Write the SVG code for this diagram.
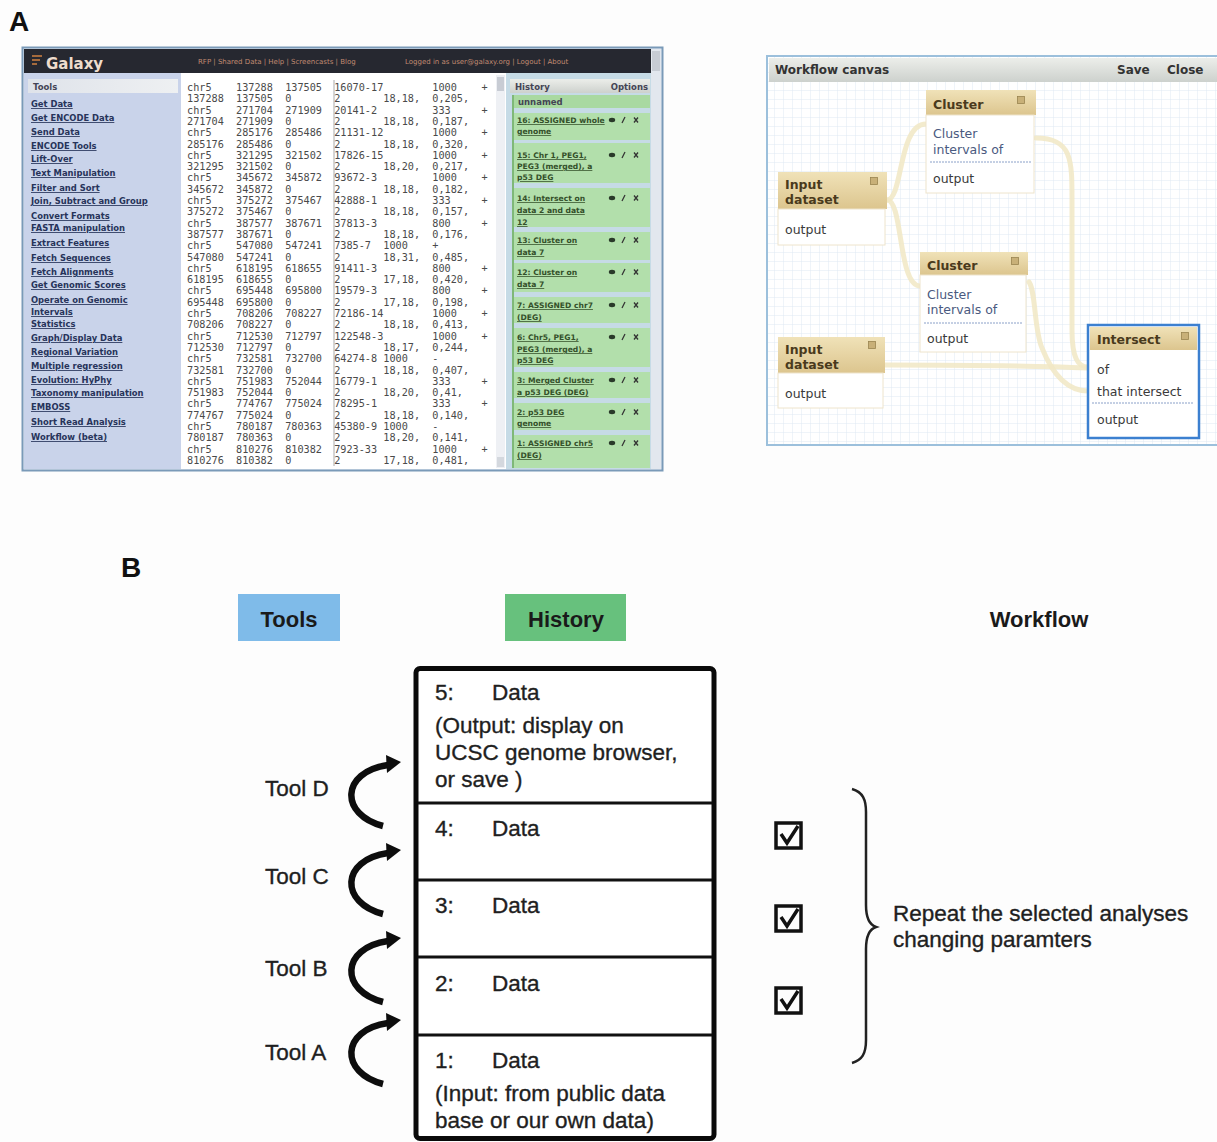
<svg xmlns="http://www.w3.org/2000/svg" width="1217" height="1142" viewBox="0 0 1217 1142">
<defs>
<style>
.lbl{font-family:"Liberation Sans",Arial,sans-serif;font-weight:bold;font-size:28px;fill:#111}
.b{font-family:"Liberation Sans",Arial,sans-serif;font-size:22.5px;fill:#1f1f1f;stroke:#1f1f1f;stroke-width:0.35}
.bh{font-family:"Liberation Sans",Arial,sans-serif;font-size:22px;font-weight:bold;fill:#1a1a1a;text-anchor:middle}
.tool{font-family:"DejaVu Sans",sans-serif;font-size:8.4px;font-weight:bold;fill:#27345a;text-decoration:underline}
.tbl{font-family:"DejaVu Sans Mono","Liberation Mono",monospace;font-size:10.2px;fill:#4a4a4a;white-space:pre}
.hist{font-family:"DejaVu Sans",sans-serif;font-size:7.6px;font-weight:bold;fill:#34502a;text-decoration:underline}
.hdr{font-family:"DejaVu Sans",sans-serif;font-size:8.5px;font-weight:bold;fill:#445}
.lnk{font-family:"DejaVu Sans",sans-serif;font-size:7px;fill:#c08a70}
.wfh{font-family:"DejaVu Sans",sans-serif;font-size:12.5px;font-weight:bold;fill:#4a3a1c}
.wft{font-family:"DejaVu Sans",sans-serif;font-size:12px;font-weight:bold;fill:#333}
.wfb{font-family:"DejaVu Sans",sans-serif;font-size:12.5px;fill:#4a5a80}
.wfo{font-family:"DejaVu Sans",sans-serif;font-size:12.5px;fill:#3a3a3a}
.conn{fill:none;stroke:#f1e8c4;stroke-width:5;stroke-linecap:round;opacity:.85}
.arc{fill:none;stroke:#0d0d0d;stroke-width:6.5}
.row{stroke:#111;stroke-width:3}
.hitem{fill:#b2dfab}
.nh{fill:url(#tan)}
.nb{fill:#fff;stroke:#eee4cc;stroke-width:1}
.div{stroke:#8aa0c8;stroke-width:1;stroke-dasharray:2 1}
.chk{fill:none;stroke:#111;stroke-width:3.5}
</style>
<linearGradient id="tan" x1="0" y1="0" x2="0" y2="1"><stop offset="0" stop-color="#f0e2b8"/><stop offset="1" stop-color="#dcc58e"/></linearGradient>
<linearGradient id="bar" x1="0" y1="0" x2="0" y2="1"><stop offset="0" stop-color="#eceeea"/><stop offset="1" stop-color="#cdd1cd"/></linearGradient>
<linearGradient id="tbar" x1="0" y1="0" x2="1" y2="0"><stop offset="0" stop-color="#dfe3ea"/><stop offset="1" stop-color="#eef0f2"/></linearGradient>
<pattern id="grid" width="9" height="9" patternUnits="userSpaceOnUse"><rect width="9" height="9" fill="#fff"/><path d="M9 0H0V9" fill="none" stroke="#dfe9f3" stroke-width="1"/></pattern>
<clipPath id="tclip"><rect x="183" y="76" width="312" height="392"/></clipPath>
<g id="hi"><ellipse cx="0" cy="0" rx="3.2" ry="2.2" fill="#2a3a2a"/><path d="M10,3 L13,-3" stroke="#333" stroke-width="1.3"/><path d="M22,-2.5 L26,2.5 M26,-2.5 L22,2.5" stroke="#333" stroke-width="1.3"/></g>
<g id="cx"><rect x="-3.5" y="-3.5" width="7" height="7" fill="#c8b078" stroke="#9a8450" stroke-width=".8"/></g>
</defs>

<rect width="1217" height="1142" fill="#fdfdfd"/>

<text class="lbl" x="9" y="31">A</text>
<text class="lbl" x="121" y="577">B</text>

<!-- Galaxy screenshot -->
<g id="galaxy-screenshot">
<rect x="22.5" y="47.5" width="640" height="423" fill="#e8eef6" stroke="#7a9ab8" stroke-width="2"/>
<rect x="24" y="49" width="627" height="24" fill="#262830"/>
<path d="M32,56 h10 M32,60 h8 M32,64 h5" stroke="#d08040" stroke-width="1.5"/>
<text x="46" y="69" font-family="DejaVu Sans,sans-serif" font-size="15" font-weight="bold" fill="#eedccc">Galaxy</text>
<text class="lnk" x="198" y="64">RFP | Shared Data | Help | Screencasts | Blog</text>
<text class="lnk" x="405" y="64">Logged in as user@galaxy.org | Logout | About</text>
<rect x="651" y="49" width="10" height="420" fill="#e2e7ee"/>
<rect x="652" y="51" width="8" height="20" fill="#c7ccd4"/>
<rect x="24" y="73" width="157" height="396" fill="#c9d3ea"/>
<rect x="28" y="79" width="150" height="14" fill="url(#tbar)"/>
<text class="hdr" x="33" y="90">Tools</text>
<text class="tool" x="31" y="107">Get Data</text>
<text class="tool" x="31" y="121">Get ENCODE Data</text>
<text class="tool" x="31" y="135">Send Data</text>
<text class="tool" x="31" y="149">ENCODE Tools</text>
<text class="tool" x="31" y="162">Lift-Over</text>
<text class="tool" x="31" y="176">Text Manipulation</text>
<text class="tool" x="31" y="191">Filter and Sort</text>
<text class="tool" x="31" y="204">Join, Subtract and Group</text>
<text class="tool" x="31" y="219">Convert Formats</text>
<text class="tool" x="31" y="231">FASTA manipulation</text>
<text class="tool" x="31" y="246">Extract Features</text>
<text class="tool" x="31" y="261">Fetch Sequences</text>
<text class="tool" x="31" y="275">Fetch Alignments</text>
<text class="tool" x="31" y="288">Get Genomic Scores</text>
<text class="tool" x="31" y="303">Operate on Genomic</text>
<text class="tool" x="31" y="315">Intervals</text>
<text class="tool" x="31" y="327">Statistics</text>
<text class="tool" x="31" y="341">Graph/Display Data</text>
<text class="tool" x="31" y="355">Regional Variation</text>
<text class="tool" x="31" y="369">Multiple regression</text>
<text class="tool" x="31" y="383">Evolution: HyPhy</text>
<text class="tool" x="31" y="396">Taxonomy manipulation</text>
<text class="tool" x="31" y="410">EMBOSS</text>
<text class="tool" x="31" y="425">Short Read Analysis</text>
<text class="tool" x="31" y="440">Workflow (beta)</text>

<rect x="181" y="73" width="325" height="396" fill="#fff"/>
<line x1="334" y1="80" x2="334" y2="466" stroke="#aaa" stroke-width="1"/>
<rect x="496" y="75" width="9" height="393" fill="#eef0f4"/>
<rect x="497" y="77" width="7" height="14" fill="#c8ccd4"/>
<rect x="497" y="457" width="7" height="10" fill="#d4d8de"/>
<g clip-path="url(#tclip)">
<text class="tbl" xml:space="preserve" x="187" y="91">chr5    137288  137505  16070-17        1000    +</text>
<text class="tbl" xml:space="preserve" x="187" y="102.3">137288  137505  0       2       18,18,  0,205,</text>
<text class="tbl" xml:space="preserve" x="187" y="113.6">chr5    271704  271909  20141-2         333     +</text>
<text class="tbl" xml:space="preserve" x="187" y="124.9">271704  271909  0       2       18,18,  0,187,</text>
<text class="tbl" xml:space="preserve" x="187" y="136.2">chr5    285176  285486  21131-12        1000    +</text>
<text class="tbl" xml:space="preserve" x="187" y="147.5">285176  285486  0       2       18,18,  0,320,</text>
<text class="tbl" xml:space="preserve" x="187" y="158.8">chr5    321295  321502  17826-15        1000    +</text>
<text class="tbl" xml:space="preserve" x="187" y="170.1">321295  321502  0       2       18,20,  0,217,</text>
<text class="tbl" xml:space="preserve" x="187" y="181.4">chr5    345672  345872  93672-3         1000    +</text>
<text class="tbl" xml:space="preserve" x="187" y="192.7">345672  345872  0       2       18,18,  0,182,</text>
<text class="tbl" xml:space="preserve" x="187" y="204">chr5    375272  375467  42888-1         333     +</text>
<text class="tbl" xml:space="preserve" x="187" y="215.3">375272  375467  0       2       18,18,  0,157,</text>
<text class="tbl" xml:space="preserve" x="187" y="226.6">chr5    387577  387671  37813-3         800     +</text>
<text class="tbl" xml:space="preserve" x="187" y="237.9">387577  387671  0       2       18,18,  0,176,</text>
<text class="tbl" xml:space="preserve" x="187" y="249.2">chr5    547080  547241  7385-7  1000    +</text>
<text class="tbl" xml:space="preserve" x="187" y="260.5">547080  547241  0       2       18,31,  0,485,</text>
<text class="tbl" xml:space="preserve" x="187" y="271.8">chr5    618195  618655  91411-3         800     +</text>
<text class="tbl" xml:space="preserve" x="187" y="283.1">618195  618655  0       2       17,18,  0,420,</text>
<text class="tbl" xml:space="preserve" x="187" y="294.4">chr5    695448  695800  19579-3         800     +</text>
<text class="tbl" xml:space="preserve" x="187" y="305.7">695448  695800  0       2       17,18,  0,198,</text>
<text class="tbl" xml:space="preserve" x="187" y="317">chr5    708206  708227  72186-14        1000    +</text>
<text class="tbl" xml:space="preserve" x="187" y="328.3">708206  708227  0       2       18,18,  0,413,</text>
<text class="tbl" xml:space="preserve" x="187" y="339.6">chr5    712530  712797  122548-3        1000    +</text>
<text class="tbl" xml:space="preserve" x="187" y="350.9">712530  712797  0       2       18,17,  0,244,</text>
<text class="tbl" xml:space="preserve" x="187" y="362.2">chr5    732581  732700  64274-8 1000    -</text>
<text class="tbl" xml:space="preserve" x="187" y="373.5">732581  732700  0       2       18,18,  0,407,</text>
<text class="tbl" xml:space="preserve" x="187" y="384.8">chr5    751983  752044  16779-1         333     +</text>
<text class="tbl" xml:space="preserve" x="187" y="396.1">751983  752044  0       2       18,20,  0,41,</text>
<text class="tbl" xml:space="preserve" x="187" y="407.4">chr5    774767  775024  78295-1         333     +</text>
<text class="tbl" xml:space="preserve" x="187" y="418.7">774767  775024  0       2       18,18,  0,140,</text>
<text class="tbl" xml:space="preserve" x="187" y="430">chr5    780187  780363  45380-9 1000    -</text>
<text class="tbl" xml:space="preserve" x="187" y="441.3">780187  780363  0       2       18,20,  0,141,</text>
<text class="tbl" xml:space="preserve" x="187" y="452.6">chr5    810276  810382  7923-33         1000    +</text>
<text class="tbl" xml:space="preserve" x="187" y="463.9">810276  810382  0       2       17,18,  0,481,</text>
</g>

<rect x="506" y="73" width="145" height="396" fill="#c6dbe6"/>
<rect x="510" y="79" width="140" height="14" fill="url(#bar)"/>
<text class="hdr" x="515" y="90">History</text>
<text class="hdr" x="648" y="90" text-anchor="end">Options</text>
<rect x="512" y="95" width="138" height="13" fill="#a9d9a1"/>
<text class="hdr" x="518" y="105" fill="#34502a">unnamed</text>
<rect class="hitem" x="512" y="113" width="138" height="27"/>
<rect class="hitem" x="512" y="143" width="138" height="40"/>
<rect class="hitem" x="512" y="188" width="138" height="39"/>
<rect class="hitem" x="512" y="232" width="138" height="28"/>
<rect class="hitem" x="512" y="263" width="138" height="29"/>
<rect class="hitem" x="512" y="297" width="138" height="26"/>
<rect class="hitem" x="512" y="328" width="138" height="39"/>
<rect class="hitem" x="512" y="372" width="138" height="26"/>
<rect class="hitem" x="512" y="403" width="138" height="27"/>
<rect class="hitem" x="512" y="435" width="138" height="33"/>
<rect x="512" y="95" width="2" height="373" fill="#7fb878"/>
<text class="hist" x="517" y="123">16: ASSIGNED whole</text><text class="hist" x="517" y="134">genome</text>
<text class="hist" x="517" y="158">15: Chr 1, PEG1,</text><text class="hist" x="517" y="169">PEG3 (merged), a</text><text class="hist" x="517" y="180">p53 DEG</text>
<text class="hist" x="517" y="201">14: Intersect on</text><text class="hist" x="517" y="213">data 2 and data</text><text class="hist" x="517" y="225">12</text>
<text class="hist" x="517" y="243">13: Cluster on</text><text class="hist" x="517" y="255">data 7</text>
<text class="hist" x="517" y="275">12: Cluster on</text><text class="hist" x="517" y="287">data 7</text>
<text class="hist" x="517" y="308">7: ASSIGNED chr7</text><text class="hist" x="517" y="320">(DEG)</text>
<text class="hist" x="517" y="340">6: Chr5, PEG1,</text><text class="hist" x="517" y="352">PEG3 (merged), a</text><text class="hist" x="517" y="363">p53 DEG</text>
<text class="hist" x="517" y="383">3: Merged Cluster</text><text class="hist" x="517" y="395">a p53 DEG (DEG)</text>
<text class="hist" x="517" y="415">2: p53 DEG</text><text class="hist" x="517" y="426">genome</text>
<text class="hist" x="517" y="446">1: ASSIGNED chr5</text><text class="hist" x="517" y="458">(DEG)</text>
<use href="#hi" x="612" y="120"/><use href="#hi" x="612" y="155"/><use href="#hi" x="612" y="198"/>
<use href="#hi" x="612" y="240"/><use href="#hi" x="612" y="272"/><use href="#hi" x="612" y="305"/>
<use href="#hi" x="612" y="337"/><use href="#hi" x="612" y="380"/><use href="#hi" x="612" y="412"/>
<use href="#hi" x="612" y="443"/>
</g>

<!-- Workflow canvas -->
<g id="workflow-canvas">
<rect x="767" y="56" width="452" height="389" fill="url(#grid)" stroke="#9cc0dc" stroke-width="2"/>
<rect x="769" y="58" width="448" height="24" fill="url(#bar)"/>
<text class="wft" x="775" y="74">Workflow canvas</text>
<text class="wft" x="1117" y="74">Save</text>
<text class="wft" x="1167" y="74">Close</text>
</g>

<g id="connectors">
<path class="conn" d="M887,200 C903,200 898,124 926,124"/>
<path class="conn" d="M887,200 C903,200 898,286 920,286"/>
<path class="conn" d="M1036,138 C1072,138 1072,160 1072,200 L1072,330 C1072,358 1078,367 1088,367"/>
<path class="conn" d="M885,365 C960,365 1040,366 1088,368"/>
<path class="conn" d="M1029,282 C1036,292 1034,330 1042,348 C1054,378 1070,391 1088,391"/>
<path class="arc" d="M383,826 C340,815 340,772 388,765"/>
<polygon points="401,762 386,755 387,773" fill="#0d0d0d"/>
<path class="arc" d="M383,914 C340,903 340,860 388,853"/>
<polygon points="401,850 386,843 387,861" fill="#0d0d0d"/>
<path class="arc" d="M383,1002 C340,991 340,948 388,941"/>
<polygon points="401,938 386,931 387,949" fill="#0d0d0d"/>
<path class="arc" d="M383,1084 C340,1073 340,1030 388,1023"/>
<polygon points="401,1020 386,1013 387,1031" fill="#0d0d0d"/>
</g>

<g id="node-cluster-1">
<rect class="nh" x="926" y="90" width="110" height="25"/>
<rect class="nb" x="926" y="115" width="108" height="78"/>
<text class="wfh" x="933" y="109">Cluster</text>
<use href="#cx" x="1021" y="100"/>
<text class="wfb" x="933" y="138">Cluster</text>
<text class="wfb" x="933" y="154">intervals of</text>
<line class="div" x1="930" y1="162" x2="1031" y2="162"/>
<text class="wfo" x="933" y="183">output</text>
</g>
<g id="node-input-1">
<rect class="nh" x="778" y="172" width="109" height="37"/>
<rect class="nb" x="778" y="209" width="107" height="36"/>
<text class="wfh" x="785" y="189">Input</text>
<text class="wfh" x="785" y="204">dataset</text>
<use href="#cx" x="874" y="181"/>
<text class="wfo" x="785" y="234">output</text>
</g>
<g id="node-cluster-2">
<rect class="nh" x="920" y="252" width="108" height="23"/>
<rect class="nb" x="920" y="275" width="106" height="77"/>
<text class="wfh" x="927" y="270">Cluster</text>
<use href="#cx" x="1015" y="261"/>
<text class="wfb" x="927" y="299">Cluster</text>
<text class="wfb" x="927" y="314">intervals of</text>
<line class="div" x1="924" y1="323" x2="1023" y2="323"/>
<text class="wfo" x="927" y="343">output</text>
</g>
<g id="node-input-2">
<rect class="nh" x="778" y="337" width="107" height="36"/>
<rect class="nb" x="778" y="373" width="105" height="35"/>
<text class="wfh" x="785" y="354">Input</text>
<text class="wfh" x="785" y="369">dataset</text>
<use href="#cx" x="872" y="345"/>
<text class="wfo" x="785" y="398">output</text>
</g>
<g id="node-intersect">
<rect x="1088" y="325" width="111" height="113" fill="#fff" stroke="#3c80d0" stroke-width="2.5"/>
<rect class="nh" x="1090" y="327" width="107" height="23"/>
<text class="wfh" x="1097" y="344">Intersect</text>
<use href="#cx" x="1185" y="336"/>
<text class="wfo" x="1097" y="374">of</text>
<text class="wfo" x="1097" y="396">that intersect</text>
<line class="div" x1="1092" y1="403" x2="1194" y2="403"/>
<text class="wfo" x="1097" y="424">output</text>
</g>

<!-- Panel B -->
<g id="tools-header">
<rect x="238" y="594" width="102" height="47" fill="#7fbbe9"/>
<text class="bh" x="289" y="627">Tools</text>
</g>
<g id="history-header">
<rect x="505" y="594" width="121" height="47" fill="#67c17d"/>
<text class="bh" x="566" y="627">History</text>
</g>
<g id="workflow-header">
<text class="bh" x="1039" y="627">Workflow</text>
</g>

<g id="history-stack">
<rect x="416" y="668.5" width="298" height="470" rx="4" fill="#fff" stroke="#0a0a0a" stroke-width="5"/>
<line class="row" x1="418" y1="803" x2="712" y2="803"/>
<line class="row" x1="418" y1="880" x2="712" y2="880"/>
<line class="row" x1="418" y1="957" x2="712" y2="957"/>
<line class="row" x1="418" y1="1035" x2="712" y2="1035"/>
</g>
<g id="data-5">
<text class="b" x="435" y="700">5:</text><text class="b" x="492" y="700">Data</text>
<text class="b" x="435" y="733">(Output: display on</text>
<text class="b" x="435" y="760">UCSC genome browser,</text>
<text class="b" x="435" y="787">or save )</text>
</g>
<g id="data-4"><text class="b" x="435" y="836">4:</text><text class="b" x="492" y="836">Data</text></g>
<g id="data-3"><text class="b" x="435" y="913">3:</text><text class="b" x="492" y="913">Data</text></g>
<g id="data-2"><text class="b" x="435" y="991">2:</text><text class="b" x="492" y="991">Data</text></g>
<g id="data-1">
<text class="b" x="435" y="1068">1:</text><text class="b" x="492" y="1068">Data</text>
<text class="b" x="435" y="1101">(Input: from public data</text>
<text class="b" x="435" y="1128">base or our own data)</text>
</g>

<g id="tool-d"><text class="b" x="265" y="796">Tool D</text></g>
<g id="tool-c"><text class="b" x="265" y="884">Tool C</text></g>
<g id="tool-b"><text class="b" x="265" y="976">Tool B</text></g>
<g id="tool-a"><text class="b" x="265" y="1060">Tool A</text></g>

<g id="checkboxes">
<rect class="chk" x="776" y="823" width="25" height="25"/>
<path class="chk" d="M781,834 L787,843 L798,826"/>
<rect class="chk" x="776" y="906" width="25" height="25"/>
<path class="chk" d="M781,917 L787,926 L798,909"/>
<rect class="chk" x="776" y="988" width="25" height="25"/>
<path class="chk" d="M781,999 L787,1008 L798,991"/>
</g>

<g id="repeat-brace">
<path d="M852,789 C863,792 866,800 866,812 L866,905 C866,918 870,925 876,927 C870,929 866,936 866,949 L866,1040 C866,1054 862,1060 852,1063" fill="none" stroke="#222" stroke-width="2.5"/>
<text class="b" x="893" y="921" font-size="23">Repeat the selected analyses</text>
<text class="b" x="893" y="947" font-size="23">changing paramters</text>
</g>
</svg>
